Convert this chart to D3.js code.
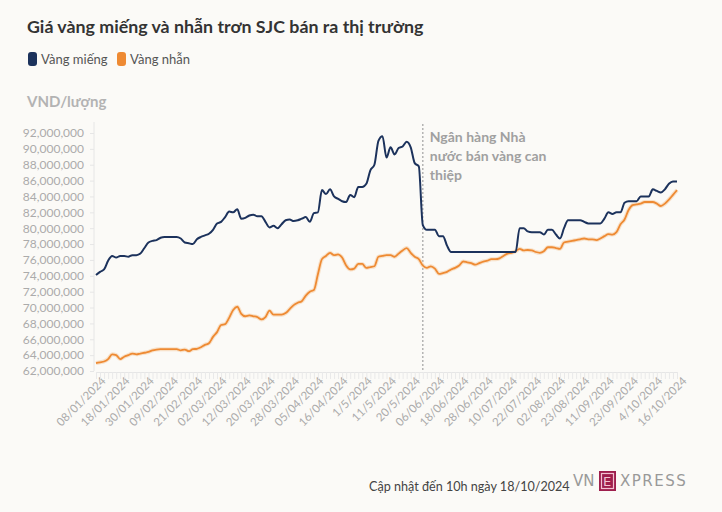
<!DOCTYPE html>
<html>
<head>
<meta charset="utf-8">
<script src="https://cdn.jsdelivr.net/npm/d3@7"></script>
<style>
  body{margin:0;background:#fbfaf7;font-family:Lato,"Noto Sans",sans-serif;}
  svg{display:block;}
</style>
</head>
<body>
<svg id="chart" width="722" height="512"></svg>
<script>
// nhãn trục x (mỗi 6 điểm một nhãn)
var dateLabels = ["08/01/2024","18/01/2024","30/01/2024","09/02/2024","21/02/2024","02/03/2024","12/03/2024","20/03/2024","28/03/2024","05/04/2024","16/04/2024","1/5/2024","11/5/2024","20/5/2024","06/06/2024","18/06/2024","28/06/2024","10/07/2024","22/07/2024","02/08/2024","23/08/2024","11/09/2024","23/09/2024","4/10/2024","16/10/2024"];
var labelStep = 6;

// triệu đồng / lượng
var vangMieng = [74.1,74.5,74.8,75.9,76.5,76.3,76.5,76.5,76.4,76.6,76.6,76.8,77.5,78.2,78.4,78.5,78.8,78.9,78.9,78.9,
  78.9,78.7,78.2,78.1,78.0,78.6,78.9,79.1,79.3,79.8,80.6,80.8,81.4,82.1,82.0,82.4,81.2,81.3,81.6,81.7,
  81.5,81.5,80.8,80.1,80.3,80.0,80.5,81.0,81.1,80.9,81.0,81.2,81.4,80.8,81.9,82.0,84.8,84.3,84.9,84.0,
  83.7,83.4,83.3,84.2,83.9,85.2,85.2,85.6,87.3,88.0,91.0,91.6,88.9,90.2,89.3,90.1,90.3,90.9,90.2,88.2,
  87.8,80.4,79.8,79.8,79.8,79.0,79.0,77.8,77.0,77.0,77.0,77.0,77.0,77.0,77.0,77.0,77.0,77.0,77.0,77.0,
  77.0,77.0,77.0,77.0,77.0,80.0,80.0,79.6,79.5,79.5,79.5,79.2,79.8,79.8,79.2,78.7,80.0,81.0,81.0,81.0,
  81.0,80.8,80.6,80.6,80.6,80.6,81.2,82.0,81.8,82.0,82.0,83.2,83.4,83.4,83.4,84.0,84.0,84.0,84.9,84.7,
  84.5,84.9,85.6,85.9,85.9];
var vangNhan = [63.0,63.1,63.2,63.5,64.1,64.0,63.5,63.8,64.0,64.2,64.1,64.2,64.3,64.4,64.6,64.7,64.75,64.75,64.75,64.75,
  64.75,64.6,64.7,64.5,64.75,64.8,65.0,65.3,65.5,66.3,66.9,67.8,67.9,68.7,69.7,70.1,69.2,68.9,69.0,68.9,
  68.8,68.5,68.8,69.6,69.1,69.1,69.1,69.3,69.8,70.3,70.6,70.8,71.5,72.0,72.2,74.2,76.1,76.5,76.9,76.6,
  76.7,76.3,75.3,74.8,74.9,75.5,75.5,75.0,75.1,75.2,76.4,76.5,76.6,76.6,76.4,76.8,77.2,77.5,76.9,76.4,
  76.1,75.3,75.0,75.2,74.9,74.25,74.35,74.5,74.8,75.0,75.3,75.8,75.7,75.6,75.4,75.6,75.8,75.9,76.1,76.1,
  76.2,76.5,76.8,76.9,77.1,77.4,77.2,77.25,77.2,77.0,76.9,77.1,77.6,77.6,77.5,77.4,78.2,78.3,78.4,78.5,
  78.6,78.7,78.6,78.6,78.5,78.7,79.0,79.25,79.2,79.5,80.5,81.1,82.3,82.9,83.0,83.1,83.3,83.3,83.3,83.1,
  82.8,83.1,83.6,84.2,84.8];
var yTicks = [62,64,66,68,70,72,74,76,78,80,82,84,86,88,90,92];
var annotIndex = 81;
var annotLines = ["Ngân hàng Nhà","nước bán vàng can","thiệp"];

var navy = "#1c325c", orange = "#ee8a33";

var svg = d3.select("#chart");

svg.append("text").attr("x",27).attr("y",33).text("Giá vàng miếng và nhẫn trơn SJC bán ra thị trường")
  .style("font-size","17.8px").style("font-weight","bold").style("fill","#333");

// legend
var leg = [{n:"Vàng miếng",c:navy,x:28},{n:"Vàng nhẫn",c:orange,x:117}];
leg.forEach(function(l){
  svg.append("rect").attr("x",l.x).attr("y",52).attr("width",9).attr("height",14).attr("rx",3).style("fill",l.c);
  svg.append("text").attr("x",l.x+13).attr("y",64).text(l.n).style("font-size","13px").style("fill","#555");
});

svg.append("text").attr("x",27).attr("y",107).text("VND/lượng")
  .style("font-size","15px").style("font-weight","bold").style("fill","#b3b3b3");

var idx = d3.range(vangMieng.length);
var x = d3.scalePoint().domain(idx).range([96,677]);
var y = d3.scaleLinear().domain([62,92]).range([371,133]);

// y axis
var gy = svg.append("g").attr("transform","translate(94,0)")
  .call(d3.axisLeft(y).tickValues(yTicks).tickSize(4).tickPadding(6)
    .tickFormat(function(d){return d3.format(",")(d*1e6)}));
gy.select(".domain").attr("d","M0,122V371").style("stroke","#e6e6e6");
gy.selectAll(".tick line").style("stroke","#e6e6e6");
gy.selectAll("text").style("font-size","12px").style("fill","#ababab").style("font-family","Lato");

// x axis
var gx = svg.append("g").attr("transform","translate(0,372)")
  .call(d3.axisBottom(x).tickSize(7).tickSizeOuter(0)
    .tickFormat(function(d){return d%labelStep==0 ? dateLabels[d/labelStep] : ""}));
gx.select(".domain").style("stroke","#e6e6e6");
gx.selectAll(".tick line").style("stroke","#e9e9e9");
gx.selectAll("text").style("font-size","11.5px").style("fill","#ababab").style("font-family","Lato")
  .attr("text-anchor","end").attr("transform","translate(5,5) rotate(-45)").attr("dy","0.6em").attr("y",0);

// đường chú thích
svg.append("line").attr("x1",x(annotIndex)).attr("x2",x(annotIndex)).attr("y1",124).attr("y2",372)
  .style("stroke","#a8a8a8").style("stroke-width",1.3).style("stroke-dasharray","2,2");
annotLines.forEach(function(t,i){
  svg.append("text").attr("x",x(annotIndex)+7).attr("y",142+i*19).text(t)
    .style("font-size","14px").style("font-weight","bold").style("fill","#a0a0a0");
});

var line = d3.line().x(function(d,i){return x(i)}).y(function(d){return y(d)}).curve(d3.curveMonotoneX);

svg.append("path").datum(vangNhan).attr("d",line).style("fill","none").style("stroke","#f6c79a").style("stroke-width",4).style("opacity",0.5);
svg.append("path").datum(vangNhan).attr("d",line).style("fill","none").style("stroke",orange).style("stroke-width",1.8);
svg.append("path").datum(vangMieng).attr("d",line).style("fill","none").style("stroke",navy).style("stroke-width",2);

// footer
svg.append("text").attr("x",369).attr("y",491).text("Cập nhật đến 10h ngày 18/10/2024")
  .style("font-size","12.6px").style("fill","#444");
var logo = svg.append("g").attr("transform","translate(573,0)");
logo.append("text").attr("x",0).attr("y",486).text("VN").style("font-size","15px").style("fill","#999").style("font-family","DejaVu Sans");
logo.append("rect").attr("x",26).attr("y",471).attr("width",17).attr("height",20).style("fill","#9e1f4d");
logo.append("rect").attr("x",28.5).attr("y",473.5).attr("width",12).attr("height",15).style("fill","none").style("stroke","#f3c2d2").style("stroke-width",1.2);
logo.append("text").attr("x",30).attr("y",486).text("E").style("font-size","13px").style("fill","#f3c2d2").style("font-family","DejaVu Sans");
logo.append("text").attr("x",47).attr("y",486).text("XPRESS").style("font-size","15px").style("letter-spacing","1.5px").style("fill","#999").style("font-family","DejaVu Sans");
</script>
</body>
</html>
